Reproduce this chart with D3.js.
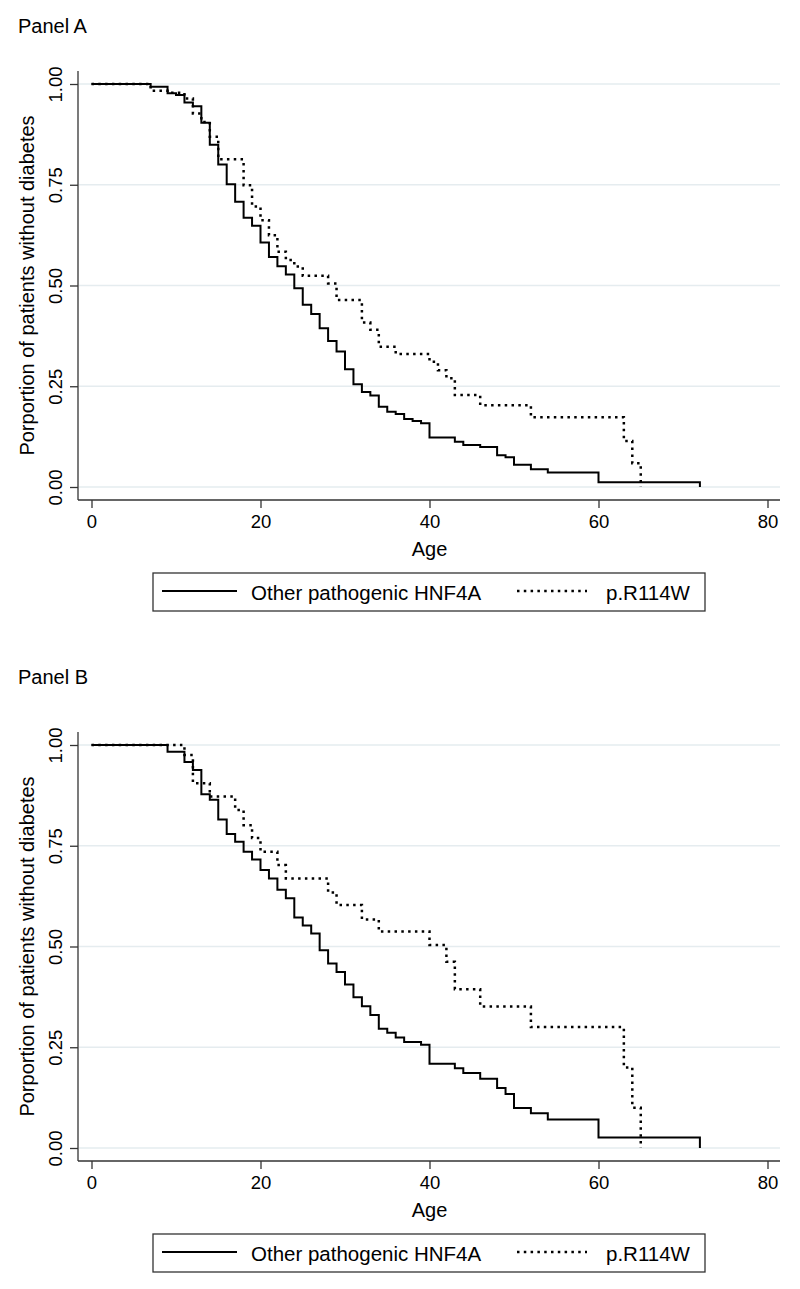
<!DOCTYPE html>
<html>
<head>
<meta charset="utf-8">
<script src="https://cdn.jsdelivr.net/npm/d3@7"></script>
<style>
  html, body { margin: 0; padding: 0; background: #fff; }
  svg { display: block; font-family: "Liberation Sans", Arial, Helvetica, sans-serif; }
</style>
</head>
<body>
<svg id="chart" width="800" height="1289"></svg>
<script>
// ---------- data ----------
const panelTitles = ["Panel A", "Panel B"];
const seriesNames = ["Other pathogenic HNF4A", "p.R114W"];
const yTickValues = [0, 0.25, 0.5, 0.75, 1];
const yTickLabels = ["0.00", "0.25", "0.50", "0.75", "1.00"];
const xTickValues = [0, 20, 40, 60, 80];
const xTickLabels = ["0", "20", "40", "60", "80"];
const xTitle = "Age";
const yTitle = "Porportion of patients without diabetes";

// Panel A – other pathogenic HNF4A
const agesA_other = [0,7,9,10,11,12,13,14,15,16,17,18,19,20,21,22,23,24,25,26,27,28,29,30,31,32,33,34,35,36,37,38,39,40,43,44,46,48,49,50,52,54,60,72];
const survA_other = [1,0.993,0.977,0.973,0.954,0.945,0.904,0.849,0.800,0.751,0.708,0.668,0.648,0.607,0.571,0.548,0.527,0.493,0.452,0.429,0.394,0.362,0.336,0.292,0.255,0.236,0.227,0.199,0.187,0.181,0.169,0.164,0.158,0.123,0.112,0.104,0.099,0.079,0.074,0.055,0.044,0.036,0.012,0];
// Panel A – p.R114W
const agesA_r114w = [0,7,9,11,12,13,14,15,18,19,20,21,22,23,24,25,28,29,32,33,34,36,40,41,42,43,46,52,63,64,65];
const survA_r114w = [1,0.983,0.978,0.964,0.927,0.906,0.869,0.813,0.749,0.696,0.662,0.625,0.584,0.563,0.547,0.524,0.505,0.464,0.408,0.390,0.348,0.330,0.311,0.290,0.270,0.228,0.203,0.173,0.114,0.059,0];
// Panel B – other pathogenic HNF4A
const agesB_other = [0,9,11,12,13,14,15,16,17,18,19,20,21,22,23,24,25,26,27,28,29,30,31,32,33,34,35,36,37,39,40,43,44,46,48,49,50,52,54,60,72];
const survB_other = [1,0.983,0.958,0.938,0.878,0.864,0.815,0.779,0.760,0.735,0.716,0.690,0.669,0.641,0.620,0.572,0.552,0.532,0.491,0.458,0.437,0.406,0.374,0.352,0.330,0.296,0.286,0.274,0.263,0.256,0.209,0.198,0.186,0.172,0.149,0.134,0.099,0.086,0.071,0.026,0];
// Panel B – p.R114W
const agesB_r114w = [0,11,12,14,17,18,19,20,22,23,28,29,32,34,40,42,43,46,52,63,64,65];
const survB_r114w = [1,0.975,0.905,0.872,0.839,0.801,0.769,0.735,0.702,0.669,0.634,0.603,0.567,0.537,0.504,0.462,0.394,0.351,0.300,0.200,0.100,0];

// ---------- drawing ----------
const svg = d3.select("#chart");
const FONT_TICK = 18.5, FONT_TITLE = 20, FONT_LEGEND = 20.5;
const AXIS_COLOR = "#333";
const GRID_COLOR = "#e5ecef";

const x = d3.scaleLinear().domain([0, 80]).range([91.5, 767.5]);

function drawPanel(offset, titleBaseline, title, agesO, survO, agesR, survR) {
  const g = svg.append("g").attr("transform", `translate(0,${offset})`);
  const y = d3.scaleLinear().domain([0, 1]).range([487, 84]);
  const axisX = 78, axisY = 500, rightEdge = 780, topEdge = 71;

  // title
  svg.append("text").attr("x", 18).attr("y", titleBaseline)
    .attr("font-size", 20).attr("fill", "#000").text(title);

  // gridlines
  g.append("g").selectAll("line").data(yTickValues).join("line")
    .attr("x1", axisX + 1).attr("x2", rightEdge)
    .attr("y1", d => y(d)).attr("y2", d => y(d))
    .attr("stroke", GRID_COLOR).attr("stroke-width", 1.6);

  // y axis
  const yAxis = d3.axisLeft(y).tickValues(yTickValues)
    .tickFormat((d, i) => yTickLabels[i]).tickSize(8).tickSizeOuter(0);
  const ya = g.append("g").attr("transform", `translate(${axisX},0)`).call(yAxis);
  ya.select(".domain").attr("d", `M0,${topEdge}V${axisY}`).attr("stroke", AXIS_COLOR).attr("stroke-width", 1.3);
  ya.selectAll(".tick line").attr("stroke", AXIS_COLOR).attr("stroke-width", 1.3);
  ya.selectAll(".tick text")
    .attr("font-size", FONT_TICK).attr("fill", "#000")
    .attr("font-family", "Liberation Sans, Arial, sans-serif")
    .attr("x", 0).attr("dy", 0)
    .attr("transform", "translate(-16.5,0) rotate(-90)")
    .attr("text-anchor", "middle");

  // x axis
  const xAxis = d3.axisBottom(x).tickValues(xTickValues)
    .tickFormat((d, i) => xTickLabels[i]).tickSize(8).tickSizeOuter(0);
  const xa = g.append("g").attr("transform", `translate(0,${axisY})`).call(xAxis);
  xa.select(".domain").attr("d", `M${axisX},0H${rightEdge}`).attr("stroke", AXIS_COLOR).attr("stroke-width", 1.3);
  xa.selectAll(".tick line").attr("stroke", AXIS_COLOR).attr("stroke-width", 1.3);
  xa.selectAll(".tick text")
    .attr("font-size", FONT_TICK).attr("fill", "#000")
    .attr("font-family", "Liberation Sans, Arial, sans-serif")
    .attr("y", 28).attr("dy", 0);

  // axis titles
  g.append("text").attr("x", 429.5).attr("y", 556).attr("text-anchor", "middle")
    .attr("font-size", FONT_TITLE).text(xTitle);
  g.append("text")
    .attr("transform", `translate(34,${(y(0) + y(1)) / 2}) rotate(-90)`)
    .attr("text-anchor", "middle").attr("font-size", FONT_TITLE).text(yTitle);

  // curves
  const line = d3.line().x(d => x(d[0])).y(d => y(d[1])).curve(d3.curveStepAfter);
  const dataO = agesO.map((a, i) => [a, survO[i]]);
  const dataR = agesR.map((a, i) => [a, survR[i]]);
  g.append("path").datum(dataO).attr("d", line)
    .attr("fill", "none").attr("stroke", "#000").attr("stroke-width", 2)
    .attr("stroke-linejoin", "miter");
  g.append("path").datum(dataR).attr("d", line)
    .attr("fill", "none").attr("stroke", "#000").attr("stroke-width", 2.5)
    .attr("stroke-dasharray", "2.5,4.3");

  // legend
  const lg = g.append("g");
  lg.append("rect").attr("x", 153).attr("y", 573).attr("width", 552).attr("height", 38)
    .attr("fill", "#fff").attr("stroke", AXIS_COLOR).attr("stroke-width", 1.3);
  lg.append("line").attr("x1", 162).attr("x2", 237).attr("y1", 591).attr("y2", 591)
    .attr("stroke", "#000").attr("stroke-width", 2);
  lg.append("text").attr("x", 251).attr("y", 600).attr("font-size", FONT_LEGEND).text(seriesNames[0]);
  lg.append("line").attr("x1", 517).attr("x2", 587).attr("y1", 591).attr("y2", 591)
    .attr("stroke", "#000").attr("stroke-width", 2.5).attr("stroke-dasharray", "2.5,4.3");
  lg.append("text").attr("x", 606).attr("y", 600).attr("font-size", FONT_LEGEND).text(seriesNames[1]);
}

drawPanel(0, 33, panelTitles[0], agesA_other, survA_other, agesA_r114w, survA_r114w);
drawPanel(661, 684, panelTitles[1], agesB_other, survB_other, agesB_r114w, survB_r114w);
</script>
</body>
</html>
